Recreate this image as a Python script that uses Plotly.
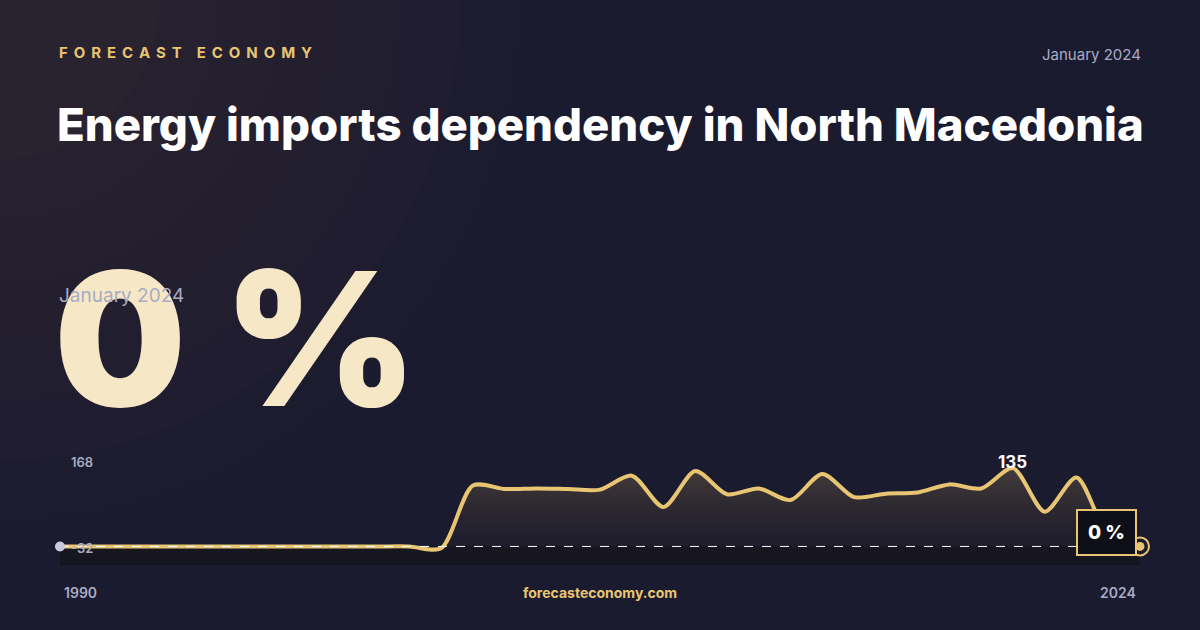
import plotly.graph_objects as go

years = list(range(1990, 2025))
values = [0]*12 + [-3, 105, 99, 100, 99, 98, 122, 68, 130, 90, 100, 80, 125, 85, 91, 93, 107, 100, 135, 60, 119, 20, 0]
title = "Energy imports dependency in North Macedonia"
GOLD = "#e8c573"
BG = "#1b1b2f"

L, R, T, B = 60, 1140, 449, 565
def px(x): return (x - L) / (R - L)
def py(y): return (B - y) / (B - T)

fig = go.Figure()
fig.add_trace(go.Scatter(x=years, y=[-32]*len(years), mode="lines", line=dict(width=0), hoverinfo="skip", showlegend=False))
fig.add_trace(go.Scatter(x=years, y=values, mode="lines", line=dict(color=GOLD, width=4, shape="spline", smoothing=0.8),
                         fill="tonexty",
                         fillgradient=dict(type="vertical", colorscale=[[0, "rgba(20,20,30,0.2)"], [1, "rgba(120,100,70,0.45)"]]),
                         showlegend=False))
fig.add_trace(go.Scatter(x=[1990, 2024], y=[0, 0], mode="lines", line=dict(color="white", width=1, dash="dash"), showlegend=False))
fig.add_trace(go.Scatter(x=[1990], y=[0], mode="markers", marker=dict(size=10, color="#c8c9dc"), showlegend=False, cliponaxis=False))
fig.add_trace(go.Scatter(x=[2024], y=[0], mode="markers", marker=dict(size=18, color=BG, line=dict(color=GOLD, width=2)), showlegend=False, cliponaxis=False))
fig.add_trace(go.Scatter(x=[2024], y=[0], mode="markers", marker=dict(size=9, color=GOLD), showlegend=False, cliponaxis=False))

sp = " \u2009"
brand = sp.join("FORECAST") + "\u2003" + sp.join("ECONOMY")
ann = [
    dict(x=57, y=52, text=brand, font=dict(size=15, color=GOLD, family="Inter", weight=700), xanchor="left"),
    dict(x=1143, y=54, text="January 2024", font=dict(size=15, color="#a9abc4", family="Inter"), xanchor="right"),
    dict(x=55, y=124, text=title, font=dict(size=45.5, color="white", family="Inter", weight=800), xanchor="left"),
    dict(x=52, y=338, text="0 %", font=dict(size=186, color="#f6e8c6", family="Inter", weight=900), xanchor="left"),
    dict(x=57, y=295, text="January 2024", font=dict(size=19, color="#a9abc4", family="Inter"), xanchor="left"),
    dict(x=69, y=462, text="168", font=dict(size=13, color="#a9abc4", family="Inter", weight=600), xanchor="left"),
    dict(x=69, y=548, text="-32", font=dict(size=13, color="#a9abc4", family="Inter", weight=600), xanchor="left"),
    dict(x=1012, y=462, text="135", font=dict(size=17, color="white", family="Inter", weight=700), xanchor="center"),
    dict(x=62, y=592, text="1990", font=dict(size=14, color="#a9abc4", family="Inter", weight=600), xanchor="left"),
    dict(x=1138, y=592, text="2024", font=dict(size=14, color="#a9abc4", family="Inter", weight=600), xanchor="right"),
    dict(x=600, y=592, text="forecasteconomy.com", font=dict(size=14, color=GOLD, family="Inter", weight=700), xanchor="center"),
]
annotations = []
for a in ann:
    annotations.append(dict(xref="paper", yref="paper", x=px(a["x"]), y=py(a["y"]), text=a["text"], font=a["font"],
                            xanchor=a["xanchor"], yanchor="middle", showarrow=False))
annotations.append(dict(xref="paper", yref="paper", x=px(1106), y=py(532), text="0 %",
                        font=dict(size=19, color="white", family="Inter", weight=800), bgcolor="#0f0f1a", bordercolor=GOLD,
                        borderwidth=2, borderpad=10, showarrow=False, xanchor="center", yanchor="middle"))

shapes = [dict(type="rect", xref="paper", yref="y", x0=0, x1=1, y0=-32, y1=0, fillcolor="#14141f",
               line=dict(width=0), layer="below")]
for r in [520, 460, 400, 340, 280, 220, 160]:
    shapes.append(dict(type="circle", xref="paper", yref="paper", x0=px(-r), x1=px(r), y0=py(r), y1=py(-r),
                       fillcolor="rgba(110,90,65,0.022)", line=dict(width=0), layer="below"))

fig.update_layout(
    width=1200, height=630, margin=dict(l=L, r=1200 - R, t=T, b=630 - B),
    paper_bgcolor=BG, plot_bgcolor=BG,
    xaxis=dict(range=[1990, 2024], visible=False, fixedrange=True),
    yaxis=dict(range=[-32, 168], visible=False),
    annotations=annotations, shapes=shapes,
)
fig.write_html("out.html", config={"displayModeBar": False}, post_script="document.body.style.margin='0';")
